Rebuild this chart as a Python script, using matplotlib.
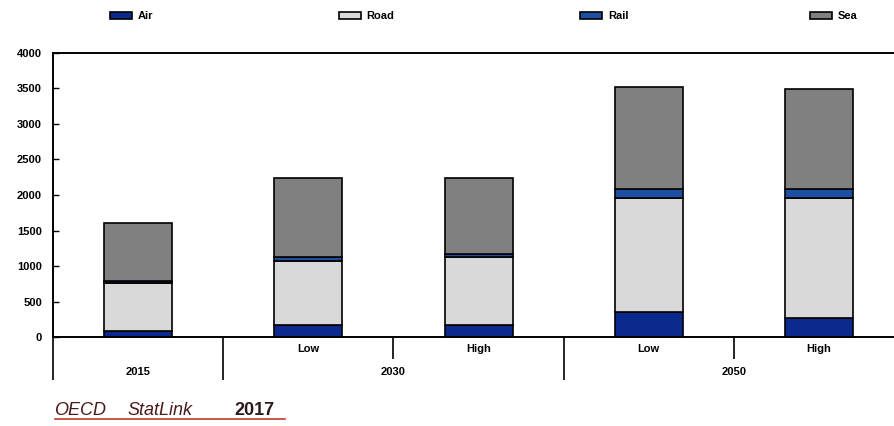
import matplotlib.pyplot as plt
import matplotlib.transforms as mtransforms
import numpy as np

plt.rcParams['font.family'] = ['Liberation Sans', 'DejaVu Sans']

# freight volumes by mode, one value per scenario column
scenarios = ["", "Low", "High", "Low", "High"]
years = ["2015", "2030", "2050"]
year_pos = [0, 1.5, 3.5]
air = [80, 170, 170, 350, 270]
road = [680, 900, 950, 1610, 1690]
rail = [25, 60, 50, 130, 130]
sea = [825, 1110, 1070, 1430, 1400]

modes = ["Air", "Road", "Rail", "Sea"]
colors = ["#0b2a8e", "#d9d9d9", "#1d4fa3", "#808080"]

fig = plt.figure(figsize=(8.94, 4.26), dpi=100)
ax = fig.add_axes([0.0593, 0.2089, 0.952, 0.6667])

x = np.arange(len(scenarios))
bottom = np.zeros(len(scenarios))
handles = []
for name, vals, c in zip(modes, [air, road, rail, sea], colors):
    b = ax.bar(x, vals, width=0.4, bottom=bottom, color=c,
               edgecolor="black", linewidth=1.2, label=name)
    bottom += np.array(vals)
    handles.append(b)

ax.set_xlim(-0.5, 4.5)
ax.set_ylim(0, 4000)
ax.set_yticks(np.arange(0, 4001, 500))
ax.tick_params(axis="y", direction="in", length=4, width=1, labelsize=8, pad=8)
for lab in ax.get_yticklabels():
    lab.set_fontweight("bold")

# group separators under the axis: long between years, short between scenarios
ax.set_xticks([-0.5, 0.5, 2.5])
ax.set_xticks([1.5, 3.5], minor=True)
ax.set_xticklabels([])
ax.tick_params(axis="x", which="major", direction="out", length=31, width=1.2)
ax.tick_params(axis="x", which="minor", direction="out", length=16, width=1.2)

for side in ["top", "left", "bottom"]:
    ax.spines[side].set_linewidth(1.4)
ax.spines["right"].set_visible(False)

trans = mtransforms.blended_transform_factory(ax.transData, ax.transAxes)
for xi, s in zip(x, scenarios):
    if s:
        ax.text(xi, -0.042, s, transform=trans, ha="center", va="center",
                fontsize=8, fontweight="bold")
for xp, yr in zip(year_pos, years):
    ax.text(xp, -0.123, yr, transform=trans, ha="center", va="center",
            fontsize=8, fontweight="bold")

# legend spread across the top
legend_x = [0.123, 0.379, 0.649, 0.906]
for h, name, lx in zip(handles, modes, legend_x):
    lg = fig.legend([h], [name], loc="center left", bbox_to_anchor=(lx, 0.962),
                    frameon=False, fontsize=8, handlelength=2.0, handleheight=0.55,
                    handletextpad=0.5, borderpad=0, borderaxespad=0)
    for t in lg.get_texts():
        t.set_fontweight("bold")

# StatLink footer
base_y = 1 - 415 / 426
fig.text(80 / 894, base_y, "OECD", fontsize=13, style="italic",
         color="#4a1a1a", va="baseline", ha="center")
fig.text(160 / 894, base_y, "StatLink", fontsize=13, style="italic",
         color="#4a1a1a", va="baseline", ha="center")
fig.text(254 / 894, base_y, "2017", fontsize=13, fontweight="bold",
         color="#2e1a1a", va="baseline", ha="center")
fig.add_artist(plt.Line2D([55 / 894, 285 / 894], [1 - 419 / 426, 1 - 419 / 426],
                          color="#c0392b", linewidth=1.2, transform=fig.transFigure))

fig.savefig("out.png", dpi=100)
